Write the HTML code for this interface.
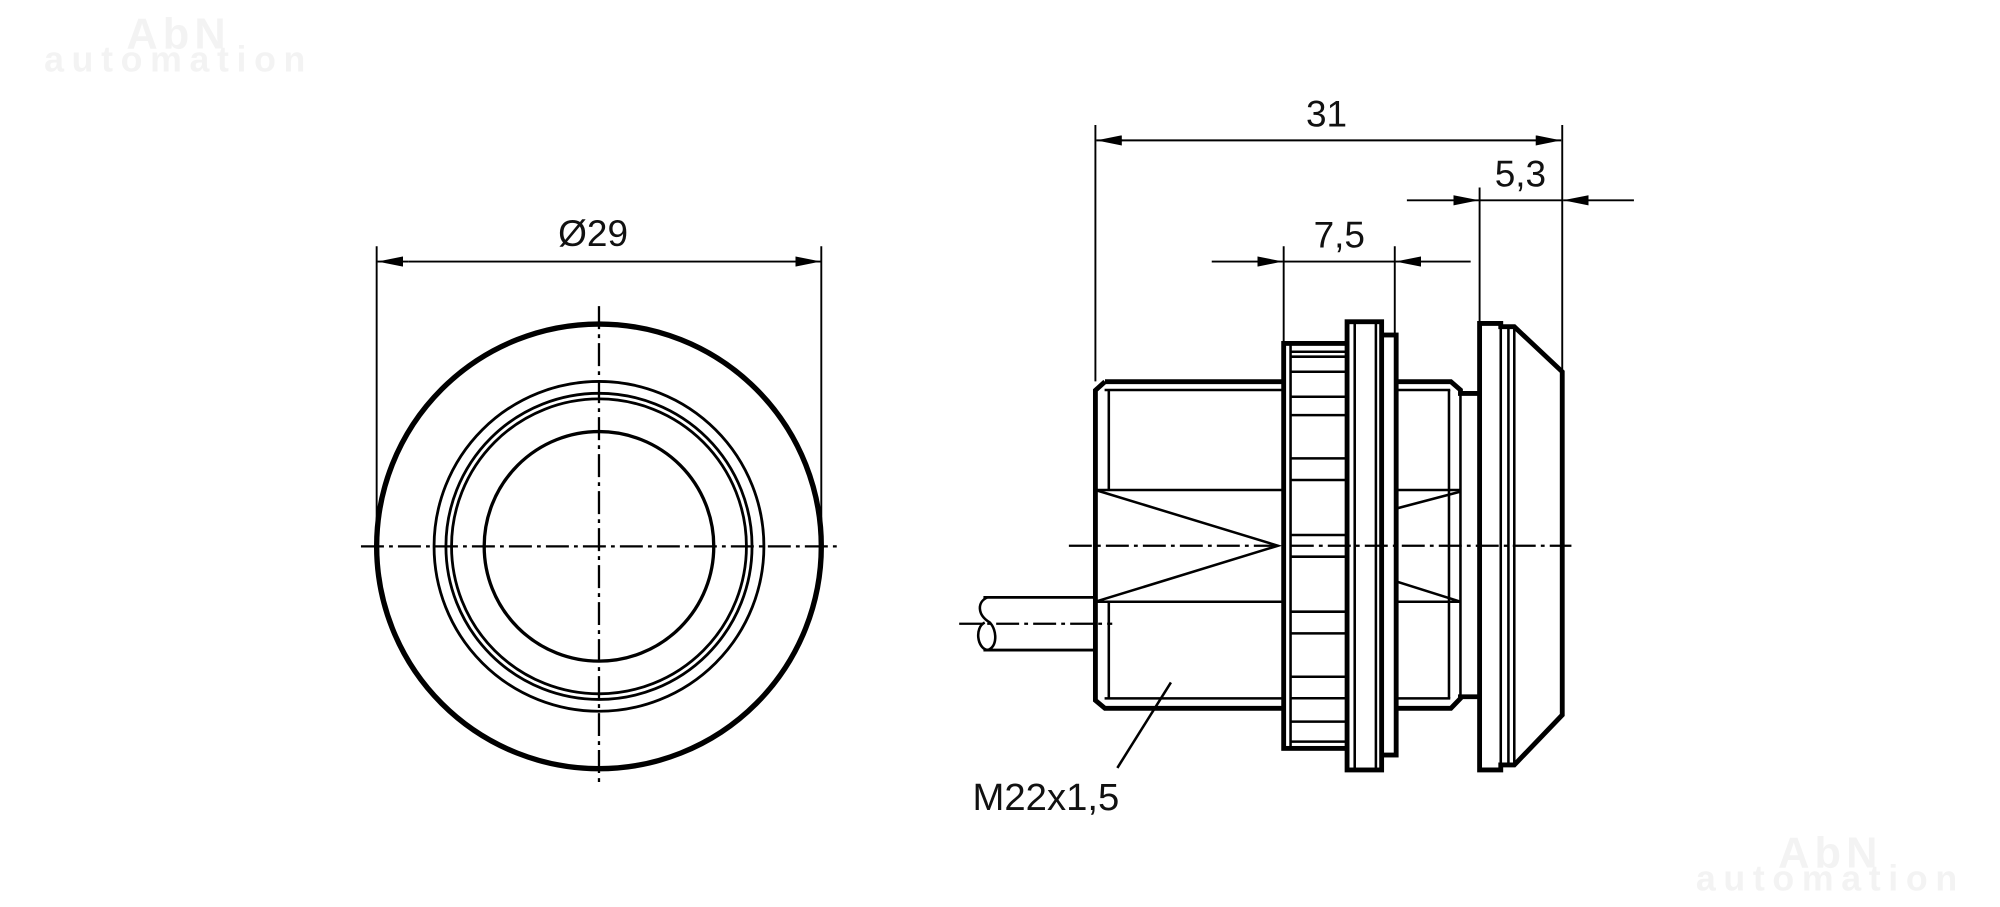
<!DOCTYPE html>
<html><head><meta charset="utf-8"><style>
html,body{margin:0;padding:0;background:#fff;}
svg{display:block;}
text{font-family:"Liberation Sans",sans-serif;fill:#111;}
</style></head><body>
<svg width="2000" height="907" viewBox="0 0 1568 711" xmlns="http://www.w3.org/2000/svg">
<defs>
<marker id="a" viewBox="0 0 20 8" refX="20" refY="4" markerWidth="20" markerHeight="8" markerUnits="userSpaceOnUse" orient="auto"><path d="M0,0 L20,4 L0,8 z" fill="#000"/></marker>
</defs>
<text x="140" y="38" font-size="34" font-weight="bold" style="fill:#f3f3f3" text-anchor="middle" letter-spacing="4">AbN</text>
<text x="140" y="56" font-size="28" font-weight="bold" style="fill:#f3f3f3" text-anchor="middle" letter-spacing="6">automation</text>
<text x="1435" y="680" font-size="34" font-weight="bold" style="fill:#f3f3f3" text-anchor="middle" letter-spacing="4">AbN</text>
<text x="1435" y="698" font-size="28" font-weight="bold" style="fill:#f3f3f3" text-anchor="middle" letter-spacing="6">automation</text>

<g fill="none" stroke="#000">
<circle cx="469.6" cy="428.3" r="174.3" stroke-width="4.2"/>
<circle cx="469.6" cy="428.3" r="129.3" stroke-width="2.2"/>
<circle cx="469.6" cy="428.3" r="120" stroke-width="2.2"/>
<circle cx="469.6" cy="428.3" r="115.6" stroke-width="2.2"/>
<circle cx="469.6" cy="428.3" r="90" stroke-width="2.6"/>
<g stroke-width="1.8" stroke-dasharray="18,4,3,4">
<line x1="283" y1="428.3" x2="656" y2="428.3"/>
<line x1="469.6" y1="240" x2="469.6" y2="613"/>
</g>
<g stroke-width="1.5">
<line x1="295.3" y1="193" x2="295.3" y2="428"/>
<line x1="643.9" y1="193" x2="643.9" y2="428"/>
<line x1="320" y1="205" x2="296" y2="205" marker-end="url(#a)"/>
<line x1="320" y1="205" x2="643.5" y2="205" marker-end="url(#a)"/>
</g>

<path d="M866.3,299.2 H1137.5 L1145,305.7 V308.4 H1160 M866.3,299.2 L858.8,306 V549 L866.3,555.3 H1137.5 L1145,547.5 V546.2 H1160" stroke-width="3.8"/>
<g stroke-width="2">
<line x1="866" y1="305.7" x2="1137" y2="305.7"/>
<line x1="866" y1="547.5" x2="1137" y2="547.5"/>
<line x1="869.3" y1="305.7" x2="869.3" y2="384.1"/>
<line x1="869.3" y1="471.7" x2="869.3" y2="547.5"/>
<line x1="1136" y1="305.7" x2="1136" y2="547.5"/>
<line x1="1145" y1="305.7" x2="1145" y2="547.5"/>
<line x1="1163" y1="308.4" x2="1163" y2="546.2"/>
<line x1="858.8" y1="384.1" x2="1145" y2="384.1"/>
<line x1="858.8" y1="471.7" x2="1145" y2="471.7"/>
<polyline points="858.8,384.1 1001.9,427.8 858.8,471.7"/>
<line x1="1095.3" y1="398.5" x2="1145" y2="385.4"/>
<line x1="1095.3" y1="456" x2="1145" y2="471.7"/>
</g>
<rect x="1006.4" y="269.2" width="52.7" height="317.5" stroke-width="3.8" fill="#fff"/>
<line x1="1011.8" y1="269.2" x2="1011.8" y2="586.7" stroke-width="2"/>
<g stroke-width="2">
<line x1="1011.8" y1="275.7" x2="1059" y2="275.7"/><line x1="1011.8" y1="279.6" x2="1059" y2="279.6"/>
<line x1="1011.8" y1="291.4" x2="1059" y2="291.4"/><line x1="1011.8" y1="311" x2="1059" y2="311"/>
<line x1="1011.8" y1="325.4" x2="1059" y2="325.4"/><line x1="1011.8" y1="359.3" x2="1059" y2="359.3"/>
<line x1="1011.8" y1="376.3" x2="1059" y2="376.3"/><line x1="1011.8" y1="419.4" x2="1059" y2="419.4"/>
<line x1="1011.8" y1="436.4" x2="1059" y2="436.4"/><line x1="1011.8" y1="479.5" x2="1059" y2="479.5"/>
<line x1="1011.8" y1="496.5" x2="1059" y2="496.5"/><line x1="1011.8" y1="530.5" x2="1059" y2="530.5"/>
<line x1="1011.8" y1="547.4" x2="1059" y2="547.4"/><line x1="1011.8" y1="565.7" x2="1059" y2="565.7"/>
<line x1="1011.8" y1="581.4" x2="1059" y2="581.4"/>
</g>
<rect x="1062" y="262.6" width="32.6" height="329.3" stroke-width="3.8" fill="#fff"/>
<rect x="1056.1" y="252.2" width="27.1" height="351.4" stroke-width="3.8" fill="#fff"/>
<line x1="1062.1" y1="252.2" x2="1062.1" y2="603.6" stroke-width="2"/>
<line x1="1078.7" y1="252.2" x2="1078.7" y2="603.6" stroke-width="2"/>
<path d="M1160,253.5 H1176.6 V256.1 H1187.2 L1224.8,291.4 V560.5 L1187.2,599.7 H1176.6 V603.6 H1160 Z" stroke-width="3.8" fill="#fff"/>
<line x1="1176.6" y1="256" x2="1176.6" y2="600" stroke-width="2"/>
<line x1="1182.6" y1="256" x2="1182.6" y2="600" stroke-width="2"/>
<line x1="1187.2" y1="256" x2="1187.2" y2="600" stroke-width="2"/>
<line x1="838" y1="427.8" x2="1232" y2="427.8" stroke-width="1.8" stroke-dasharray="18,4,3,4"/>
<line x1="771" y1="468.3" x2="858" y2="468.3" stroke-width="2.2"/>
<line x1="771" y1="509.6" x2="858" y2="509.6" stroke-width="2.2"/>
<path d="M774,468.3 C766,472 766,482 776,488 C782,494 782,508 774,509.6 C766,508 764,492 772,488" stroke-width="2"/>
<line x1="752" y1="489" x2="872" y2="489" stroke-width="1.8" stroke-dasharray="18,4,3,4"/>
<line x1="918" y1="535" x2="876" y2="602" stroke-width="2"/>

<g stroke-width="1.5">
<line x1="858.8" y1="98" x2="858.8" y2="299"/>
<line x1="1224.8" y1="98" x2="1224.8" y2="291"/>
<line x1="880" y1="110" x2="859.5" y2="110" marker-end="url(#a)"/>
<line x1="870" y1="110" x2="1224" y2="110" marker-end="url(#a)"/>
<line x1="1160" y1="147" x2="1160" y2="253"/>
<line x1="1103" y1="157" x2="1159.5" y2="157" marker-end="url(#a)"/>
<line x1="1281" y1="157" x2="1225.5" y2="157" marker-end="url(#a)"/>
<line x1="1160" y1="157" x2="1224.8" y2="157"/>
<line x1="1006.4" y1="193" x2="1006.4" y2="269"/>
<line x1="1093.5" y1="193" x2="1093.5" y2="262"/>
<line x1="950" y1="205" x2="1005.8" y2="205" marker-end="url(#a)"/>
<line x1="1153" y1="205" x2="1094.1" y2="205" marker-end="url(#a)"/>
<line x1="1006.4" y1="205" x2="1093.5" y2="205"/>
</g>
</g>
<text x="465" y="193" font-size="29" text-anchor="middle">Ø29</text>
<text x="1040" y="99" font-size="29" text-anchor="middle">31</text>
<text x="1192" y="146" font-size="29" text-anchor="middle">5,3</text>
<text x="1050" y="194" font-size="29" text-anchor="middle">7,5</text>
<text x="820" y="635" font-size="30" text-anchor="middle">M22x1,5</text>
</svg>
</body></html>
